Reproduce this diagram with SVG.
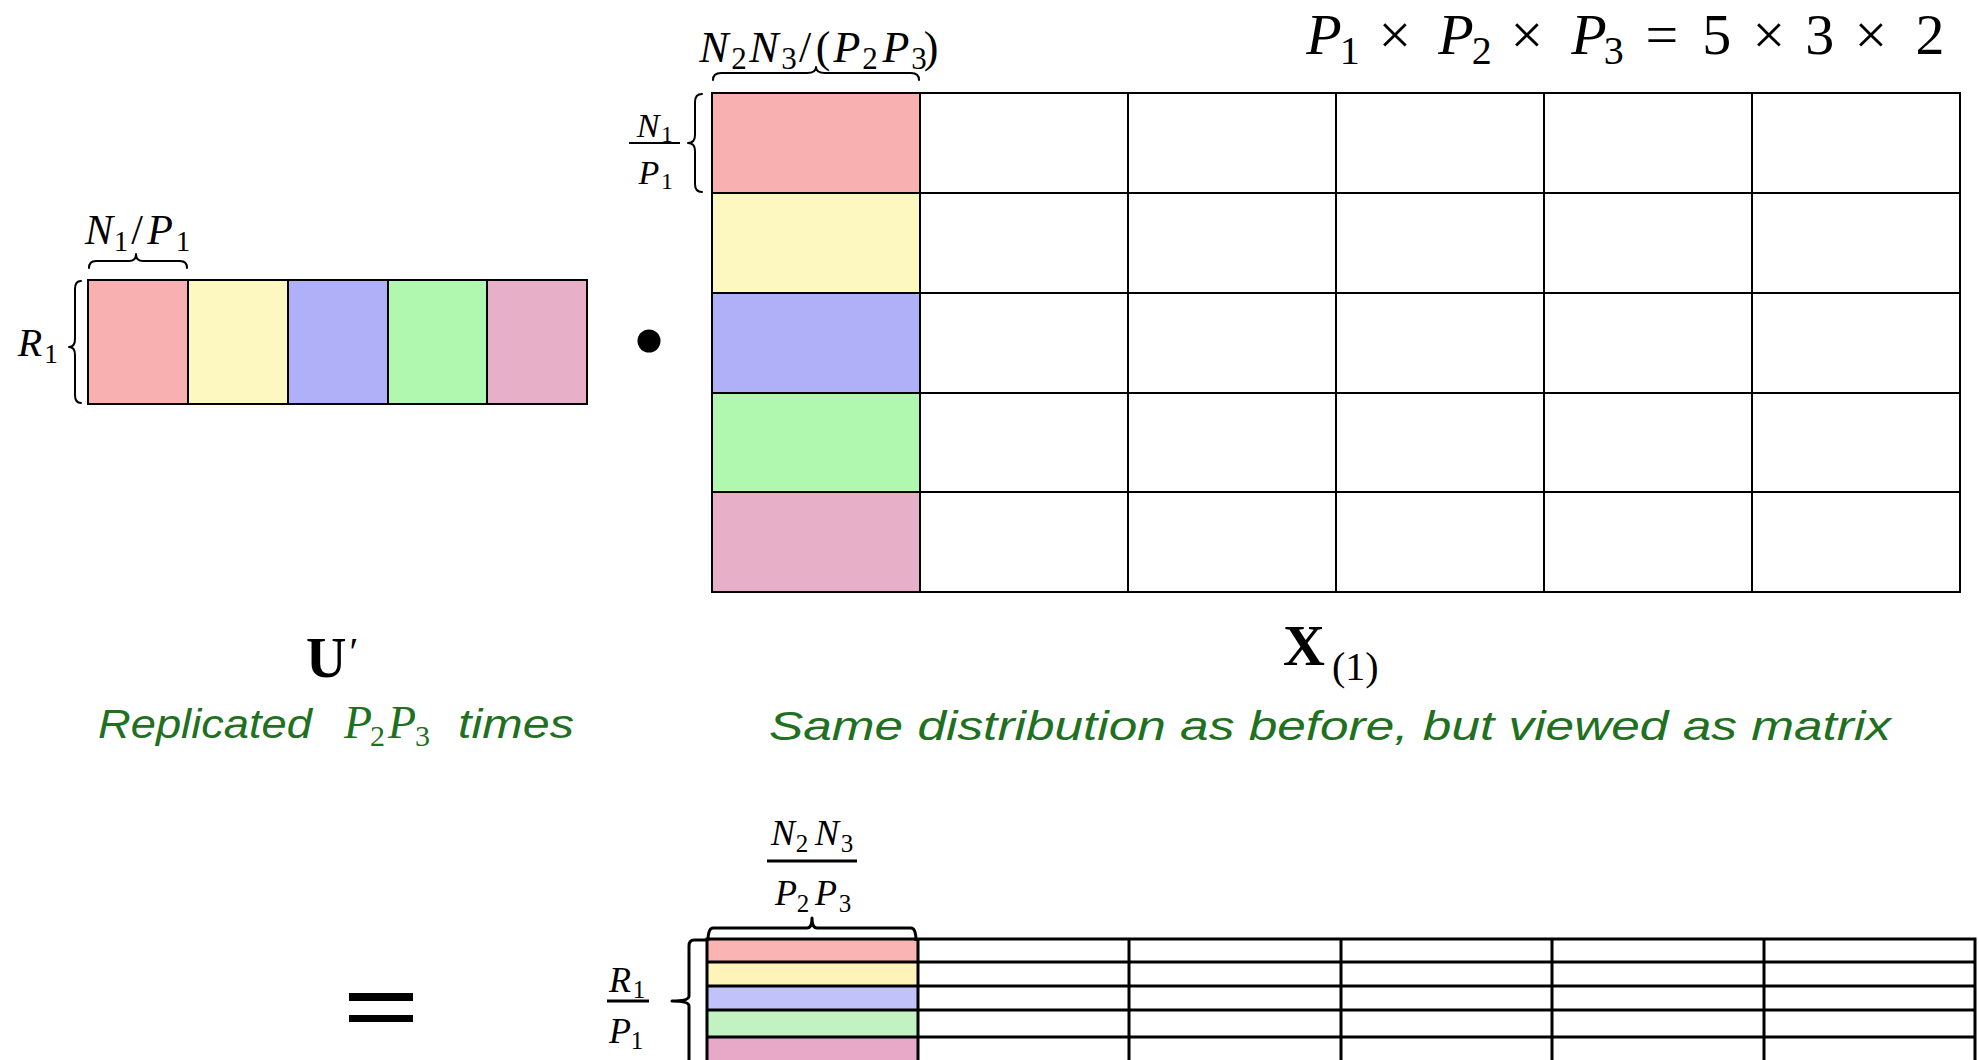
<svg xmlns="http://www.w3.org/2000/svg" width="1979" height="1060" viewBox="0 0 1979 1060">
<style>
.m{font-family:"Liberation Serif",serif;font-style:italic;fill:#000}
.r{font-family:"Liberation Serif",serif;font-style:normal;fill:#000}
.b{font-family:"Liberation Serif",serif;font-weight:bold;fill:#000}
.g{font-family:"Liberation Sans",sans-serif;font-style:italic;fill:#1f701f}
.gm{font-family:"Liberation Serif",serif;font-style:italic;fill:#1f701f}
.up{font-style:normal}
.cell{stroke:#000;stroke-width:2;fill:none}
.cell2{stroke:#000;stroke-width:3;fill:none}
.brace{fill:none;stroke:#000;stroke-width:2;stroke-linecap:round;stroke-linejoin:round}
.brace2{fill:none;stroke:#000;stroke-width:3;stroke-linejoin:round}
.c1{fill:#f8b0b0}.c2{fill:#fdf8c0}.c3{fill:#b0b0f8}.c4{fill:#b0f8b0}.c5{fill:#e8b0c8}
.d1{fill:#fbb4b4}.d2{fill:#fef3b8}.d3{fill:#c2c2fa}.d4{fill:#c2f2c2}.d5{fill:#e8a8c8}
</style>

<!-- Top-right equation -->
<g id="equation">
<text class="m" font-size="58" text-anchor="middle">
<tspan x="1324" y="54">P</tspan><tspan class="up" x="1357" y="64" font-size="40">1</tspan>
<tspan class="up" x="1402" y="54">×</tspan>
<tspan x="1456" y="54">P</tspan><tspan class="up" x="1489" y="64" font-size="40">2</tspan>
<tspan class="up" x="1534" y="54">×</tspan>
<tspan x="1589" y="54">P</tspan><tspan class="up" x="1621" y="64" font-size="40">3</tspan>
<tspan class="up" x="1669" y="54">=</tspan>
<tspan class="up" x="1724" y="54">5</tspan>
<tspan class="up" x="1776" y="54">×</tspan>
<tspan class="up" x="1827" y="54">3</tspan>
<tspan class="up" x="1878" y="54">×</tspan>
<tspan class="up" x="1930" y="54">2</tspan>
</text>
</g>

<!-- U' row vector -->
<g id="u-prime">
<rect class="c1" x="88" y="280" width="100" height="124"/>
<rect class="c2" x="188" y="280" width="100" height="124"/>
<rect class="c3" x="288" y="280" width="100" height="124"/>
<rect class="c4" x="388" y="280" width="99" height="124"/>
<rect class="c5" x="487" y="280" width="100" height="124"/>
<rect class="cell" x="88" y="280" width="499" height="124"/>
<path class="cell" d="M188 280V404M288 280V404M388 280V404M487 280V404"/>
<path class="brace" d="M89 268Q89 261 96 261L129 261Q136 261 136 254Q136 261 143 261L180 261Q187 261 187 268"/>
<text class="m" font-size="42" text-anchor="middle"><tspan x="99" y="244">N</tspan><tspan class="up" font-size="29" x="121" y="251">1</tspan><tspan class="up" x="137" y="244">/</tspan><tspan x="160" y="244">P</tspan><tspan class="up" font-size="29" x="183" y="251">1</tspan></text>
<path class="brace" d="M81 281Q75 281 75 289L75 339Q75 347 69 347Q75 347 75 355L75 395Q75 403 81 403"/>
<text class="m" font-size="40" text-anchor="middle"><tspan x="30" y="356">R</tspan><tspan class="up" font-size="28" x="51" y="363">1</tspan></text>
<text class="b" font-size="56" x="306" y="677">U<tspan font-size="40" font-weight="normal" dx="3" dy="-12">′</tspan></text>
<text class="g" font-size="41" x="98" y="738" textLength="214" lengthAdjust="spacingAndGlyphs">Replicated</text>
<text class="gm" font-size="46"><tspan x="344" y="738">P</tspan><tspan class="up" font-size="30" x="370" y="746">2</tspan><tspan x="388" y="738">P</tspan><tspan class="up" font-size="30" x="415" y="746">3</tspan></text>
<text class="g" font-size="41" x="458" y="738" textLength="116" lengthAdjust="spacingAndGlyphs">times</text>
</g>

<!-- multiplication dot -->
<g id="dot"><circle cx="649" cy="341" r="11.5" fill="#000"/></g>

<!-- X(1) matrix -->
<g id="x1">
<rect class="c1" x="712" y="93" width="208" height="100"/>
<rect class="c2" x="712" y="193" width="208" height="100"/>
<rect class="c3" x="712" y="293" width="208" height="100"/>
<rect class="c4" x="712" y="393" width="208" height="99"/>
<rect class="c5" x="712" y="492" width="208" height="100"/>
<rect class="cell" x="712" y="93" width="1248" height="499" stroke-width="2.5"/>
<path class="cell" d="M920 93V592M1128 93V592M1336 93V592M1544 93V592M1752 93V592M712 193H1960M712 293H1960M712 393H1960M712 492H1960"/>
<path class="brace" d="M713 80Q713 73 721 73L807 73Q816 73 816 67Q816 73 825 73L911 73Q919 73 919 80"/>
<text class="m" font-size="44" text-anchor="middle"><tspan x="714" y="62">N</tspan><tspan class="up" font-size="31" x="739" y="69">2</tspan><tspan x="764" y="62">N</tspan><tspan class="up" font-size="31" x="789" y="69">3</tspan><tspan class="up" x="805" y="62">/</tspan><tspan class="up" x="823" y="62">(</tspan><tspan x="847" y="62">P</tspan><tspan class="up" font-size="31" x="870" y="69">2</tspan><tspan x="896" y="62">P</tspan><tspan class="up" font-size="31" x="919" y="69">3</tspan><tspan class="up" x="931" y="62">)</tspan></text>
<path class="brace" d="M702 94Q695 94 695 102L695 135Q695 143 688 143Q695 143 695 151L695 184Q695 192 702 192"/>
<text class="m" font-size="34" text-anchor="middle"><tspan x="648" y="137">N</tspan><tspan class="up" font-size="24" x="667" y="142">1</tspan></text>
<line x1="629" y1="143" x2="680" y2="143" stroke="#000" stroke-width="2"/>
<text class="m" font-size="34" text-anchor="middle"><tspan x="649" y="184">P</tspan><tspan class="up" font-size="24" x="667" y="189">1</tspan></text>
<text class="b" font-size="58" text-anchor="middle" x="1304" y="665">X</text>
<text class="r" font-size="40" x="1332" y="680">(1)</text>
<text class="g" font-size="41" x="769" y="740" textLength="1122" lengthAdjust="spacingAndGlyphs">Same distribution as before, but viewed as matrix</text>
</g>

<!-- equals sign -->
<g id="equals">
<rect x="349" y="993" width="64" height="8" fill="#000"/>
<rect x="349" y="1015" width="64" height="7" fill="#000"/>
</g>

<!-- Result matrix -->
<g id="result">
<rect class="d1" x="707" y="939" width="211" height="23"/>
<rect class="d2" x="707" y="962" width="211" height="24"/>
<rect class="d3" x="707" y="986" width="211" height="24"/>
<rect class="d4" x="707" y="1010" width="211" height="27"/>
<rect class="d5" x="707" y="1037" width="211" height="25"/>
<path class="cell2" d="M707 1062V939H1975V1062M918 939V1062M1129 939V1062M1341 939V1062M1552 939V1062M1764 939V1062M707 962H1975M707 986H1975M707 1010H1975M707 1037H1975"/>
<path class="brace2" d="M708 941Q708 928 713 928L807 928Q812 928 812 918Q812 928 817 928L911 928Q916 928 916 941"/>
<path class="brace2" d="M706 940L694 940Q689 940 689 946L689 996Q689 1001 672 1001Q689 1001 689 1006L689 1062"/>
<text class="m" font-size="36" text-anchor="middle"><tspan x="783" y="845">N</tspan><tspan class="up" font-size="25" x="802" y="852">2</tspan><tspan x="827" y="845">N</tspan><tspan class="up" font-size="25" x="847" y="852">3</tspan></text>
<line x1="767" y1="861" x2="857" y2="861" stroke="#000" stroke-width="3"/>
<text class="m" font-size="36" text-anchor="middle"><tspan x="786" y="905">P</tspan><tspan class="up" font-size="25" x="803" y="912">2</tspan><tspan x="826" y="905">P</tspan><tspan class="up" font-size="25" x="845" y="912">3</tspan></text>
<text class="m" font-size="36" text-anchor="middle"><tspan x="620" y="992">R</tspan><tspan class="up" font-size="25" x="639" y="998">1</tspan></text>
<line x1="607" y1="1001" x2="649" y2="1001" stroke="#000" stroke-width="3"/>
<text class="m" font-size="36" text-anchor="middle"><tspan x="620" y="1043">P</tspan><tspan class="up" font-size="25" x="637" y="1049">1</tspan></text>
</g>
</svg>
